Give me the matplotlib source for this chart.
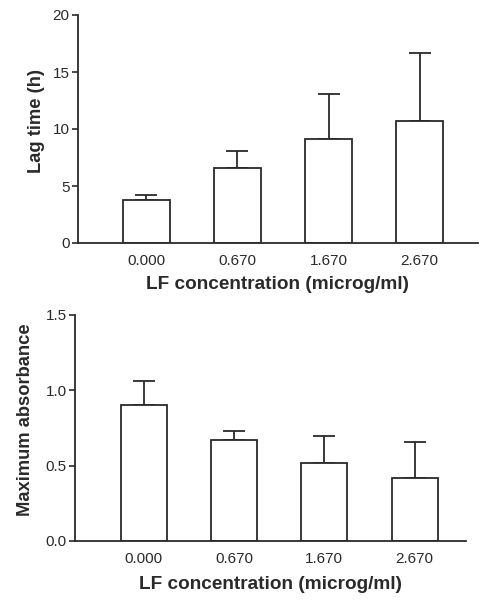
import numpy as np
import matplotlib.pyplot as plt

plt.rcParams['font.family'] = ['Liberation Sans', 'DejaVu Sans']

# data
conc_labels = ['0.000', '0.670', '1.670', '2.670']
lag_mean = [3.8, 6.6, 9.1, 10.7]
lag_sd = [0.4, 1.5, 4.0, 6.0]
abs_mean = [0.90, 0.67, 0.52, 0.42]
abs_sd = [0.16, 0.06, 0.18, 0.24]

W, H = 488, 600
ink = '#2a2a2a'

fig = plt.figure(figsize=(W / 100, H / 100), dpi=100)


def panel(rect, means, sds, ylim, yticks, ylabel, xlim, ylabel_x, ylabel_y, xlabel_pad):
    l, t, r, b = rect
    ax = fig.add_axes([l / W, 1 - b / H, (r - l) / W, (b - t) / H])
    x = np.arange(1, len(means) + 1)
    ax.bar(x, means, width=0.51, facecolor='white', edgecolor=ink, linewidth=1.3, zorder=2)
    ax.errorbar(x, means, yerr=[np.zeros(len(sds)), sds], fmt='none', ecolor=ink,
                elinewidth=1.3, capsize=8, capthick=1.3, zorder=1)
    ax.set_xlim(*xlim)
    ax.set_ylim(*ylim)
    ax.set_yticks(yticks)
    ax.set_xticks(x)
    ax.set_xticklabels(conc_labels)
    ax.tick_params(axis='x', length=0, pad=8, labelsize=11, colors=ink)
    ax.tick_params(axis='y', length=4, width=1.2, pad=2, labelsize=11, colors=ink)
    for s in ['top', 'right']:
        ax.spines[s].set_visible(False)
    for s in ['left', 'bottom']:
        ax.spines[s].set_color(ink)
        ax.spines[s].set_linewidth(1.3)
    ax.set_xlabel('LF concentration (microg/ml)', fontsize=13.7, fontweight='bold',
                  labelpad=xlabel_pad, color=ink)
    ax.set_ylabel(ylabel, fontsize=13.2, fontweight='bold', color=ink)
    ax.yaxis.set_label_coords((ylabel_x - l) / (r - l), ylabel_y)
    return ax


panel((78, 15, 478, 243), lag_mean, lag_sd, (0, 20), [0, 5, 10, 15, 20],
      'Lag time (h)', (0.25, 4.64), 45, 0.535, 6)
ax2 = panel((75, 315, 466, 541), abs_mean, abs_sd, (0, 1.5), [0.0, 0.5, 1.0, 1.5],
            'Maximum absorbance', (0.24, 4.57), 34, 0.535, 7)
ax2.set_yticklabels(['0.0', '0.5', '1.0', '1.5'])

fig.savefig('out.png', dpi=100)
